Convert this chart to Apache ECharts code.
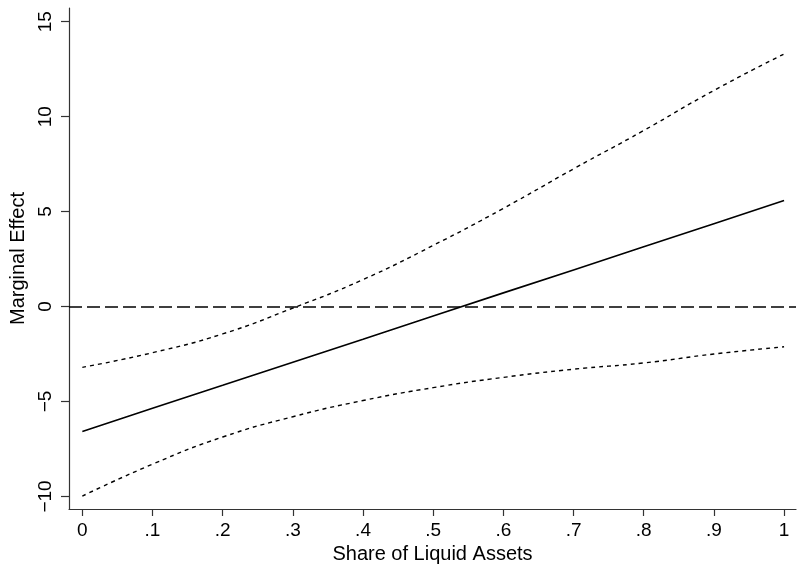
<!DOCTYPE html>
<html>
<head>
<meta charset="utf-8">
<script src="https://cdn.jsdelivr.net/npm/echarts@6/dist/echarts.min.js"></script>
<style>html,body{margin:0;padding:0;background:#fff}#c{width:797px;height:570px}</style>
</head>
<body>
<div id="c"></div>
<script>
const shareX = [0, 0.1, 0.2, 0.3, 0.4, 0.5, 0.6, 0.7, 0.8, 0.9, 1.0];
const marginalEffect = [-6.58, -5.36, -4.15, -2.93, -1.72, -0.50, 0.72, 1.93, 3.15, 4.36, 5.58];
const upperCI = [-3.20, -2.43, -1.44, -0.08, 1.42, 3.22, 5.17, 7.25, 9.27, 11.38, 13.30];
const lowerCI = [-9.98, -8.30, -6.87, -5.80, -4.95, -4.27, -3.73, -3.30, -2.97, -2.50, -2.12];
const xTicks = [0, 0.1, 0.2, 0.3, 0.4, 0.5, 0.6, 0.7, 0.8, 0.9, 1];
const yTicks = [-10, -5, 0, 5, 10, 15];

const pair = (ys) => shareX.map((x, i) => [x, ys[i]]);
const font = "'Liberation Sans', Arial, sans-serif";
const chart = echarts.init(document.getElementById('c'), null, {renderer: 'canvas'});
chart.setOption({
  animation: false,
  backgroundColor: '#ffffff',
  grid: {left: 69, right: 1, top: 8, bottom: 61},
  xAxis: {
    type: 'value', min: -0.019, max: 1.017,
    name: 'Share of Liquid Assets', nameLocation: 'middle', nameGap: 32,
    nameTextStyle: {fontFamily: font, fontSize: 20, color: '#000'},
    splitLine: {show: false},
    axisLine: {show: true, onZero: false, lineStyle: {color: '#333', width: 1.2}},
    axisTick: {show: true, customValues: xTicks, length: 7, lineStyle: {color: '#333', width: 1.2}},
    axisLabel: {customValues: xTicks, margin: 12, fontFamily: font, fontSize: 19, color: '#000',
      formatter: v => (v === 0 ? '0' : (v >= 1 ? '1' : ('.' + Math.round(v * 10))))}
  },
  yAxis: {
    type: 'value', min: -10.66, max: 15.72,
    name: 'Marginal Effect', nameLocation: 'middle', nameGap: 41, nameRotate: 90,
    nameTextStyle: {fontFamily: font, fontSize: 20, color: '#000'},
    splitLine: {show: false},
    axisLine: {show: true, onZero: false, lineStyle: {color: '#333', width: 1.2}},
    axisTick: {show: true, customValues: yTicks, length: 8, lineStyle: {color: '#333', width: 1.2}},
    axisLabel: {customValues: yTicks, rotate: 90, margin: 14, fontFamily: font, fontSize: 19, color: '#000',
      formatter: v => (v < 0 ? '\u2212' + Math.abs(v) : String(v))}
  },
  series: [
    {
      name: 'Marginal Effect', type: 'line', data: pair(marginalEffect), symbol: 'none',
      lineStyle: {color: '#000', width: 1.6},
      markLine: {
        silent: true, symbol: 'none', label: {show: false},
        lineStyle: {color: '#000', width: 1.5, type: [13, 5]},
        data: [{yAxis: 0}]
      }
    },
    {
      name: 'Upper', type: 'line', data: pair(upperCI), symbol: 'none', smooth: true,
      lineStyle: {color: '#000', width: 1.4, type: [4, 4]}
    },
    {
      name: 'Lower', type: 'line', data: pair(lowerCI), symbol: 'none', smooth: true,
      lineStyle: {color: '#000', width: 1.4, type: [4, 4]}
    }
  ]
});
</script>
</body>
</html>
